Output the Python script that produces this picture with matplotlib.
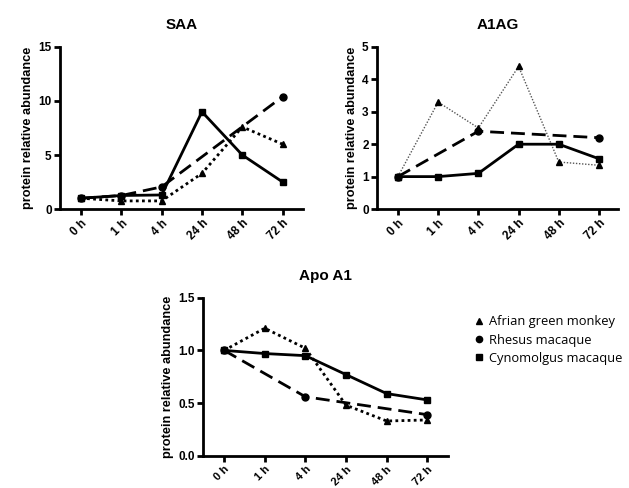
import numpy as np
import matplotlib
matplotlib.use("Agg")
import matplotlib.pyplot as plt
from matplotlib.lines import Line2D

plt.rcParams['font.family'] = ['Liberation Sans', 'DejaVu Sans']
plt.rcParams['font.weight'] = 'bold'

timepoints = ["0 h", "1 h", "4 h", "24 h", "48 h", "72 h"]
species = ["Afrian green monkey", "Rhesus macaque", "Cynomolgus macaque"]

# None = no value measured at that time point (line joins the neighbours)
saa_green = [1.0, 0.75, 0.75, 3.3, 7.6, 6.0]
saa_rhesus = [1.0, 1.25, 2.05, None, None, 10.4]
saa_cyno = [1.0, 1.25, 1.3, 9.0, 5.0, 2.5]

a1ag_green = [1.0, 3.3, 2.5, 4.4, 1.45, 1.35]
a1ag_rhesus = [1.0, None, 2.4, None, None, 2.2]
a1ag_cyno = [1.0, 1.0, 1.1, 2.0, 2.0, 1.55]

apo_green = [1.0, 1.21, 1.02, 0.48, 0.33, 0.34]
apo_rhesus = [1.0, None, 0.56, None, None, 0.39]
apo_cyno = [1.0, 0.97, 0.95, 0.77, 0.59, 0.53]


def draw(ax, vals, **kw):
    x = [i for i, v in enumerate(vals) if v is not None]
    y = [v for v in vals if v is not None]
    ax.plot(x, y, **kw)


def panel(ax, title, green, rhesus, cyno, ymax, yticks, fmt, xright, thin_green=False, xfs=8.5):
    if thin_green:
        draw(ax, green, color="#555555", lw=1.0, ls=(0, (1, 1.2)), marker="^", ms=4.5, mfc="black", mec="black")
    else:
        draw(ax, green, color="black", lw=2, ls=(0, (1, 1.2)), marker="^", ms=4.5)
    draw(ax, rhesus, color="black", lw=2, ls=(0, (5, 2.5)), marker="o", ms=5)
    draw(ax, cyno, color="black", lw=2, ls="-", marker="s", ms=4.5)
    ax.set_xlim(-0.52, xright)
    ax.set_ylim(0, ymax)
    ax.set_yticks(yticks)
    ax.set_yticklabels([fmt % t for t in yticks], fontsize=8.5, fontweight="bold")
    ax.set_xticks(range(len(timepoints)))
    ax.set_xticklabels(timepoints, rotation=45, ha="right", va="top", fontsize=xfs,
                       fontweight="bold", rotation_mode="anchor")
    for s in ["top", "right"]:
        ax.spines[s].set_visible(False)
    for s in ["left", "bottom"]:
        ax.spines[s].set_linewidth(2)
    ax.tick_params(width=2, length=4, direction="out", pad=2)
    ax.set_ylabel("protein relative abundance", fontsize=9.2, fontweight="bold", labelpad=3)
    ax.set_title(title, fontsize=11, fontweight="bold", pad=13)


fig = plt.figure(figsize=(6.29, 4.88), dpi=100)

ax1 = fig.add_axes([0.0954, 0.5717, 0.386, 0.332])
panel(ax1, "SAA", saa_green, saa_rhesus, saa_cyno, 15, [0, 5, 10, 15], "%d", 5.5)

ax2 = fig.add_axes([0.5994, 0.5717, 0.383, 0.332])
panel(ax2, "A1AG", a1ag_green, a1ag_rhesus, a1ag_cyno, 5, [0, 1, 2, 3, 4, 5], "%d", 5.47, thin_green=True)

ax3 = fig.add_axes([0.3227, 0.066, 0.389, 0.324])
panel(ax3, "Apo A1", apo_green, apo_rhesus, apo_cyno, 1.5, [0.0, 0.5, 1.0, 1.5], "%.1f", 5.5, xfs=8)

handles = [Line2D([], [], ls="none", marker=m, color="black", ms=ms)
           for m, ms in zip(["^", "o", "s"], [4, 4.5, 4])]
fig.legend(handles, species, loc="upper left", bbox_to_anchor=(0.733, 0.378),
           frameon=False, handletextpad=0.3, labelspacing=0.42, handlelength=1.0,
           prop={"family": "Open Sans", "size": 9.3, "weight": "normal"})

fig.savefig("out.png", dpi=100)
